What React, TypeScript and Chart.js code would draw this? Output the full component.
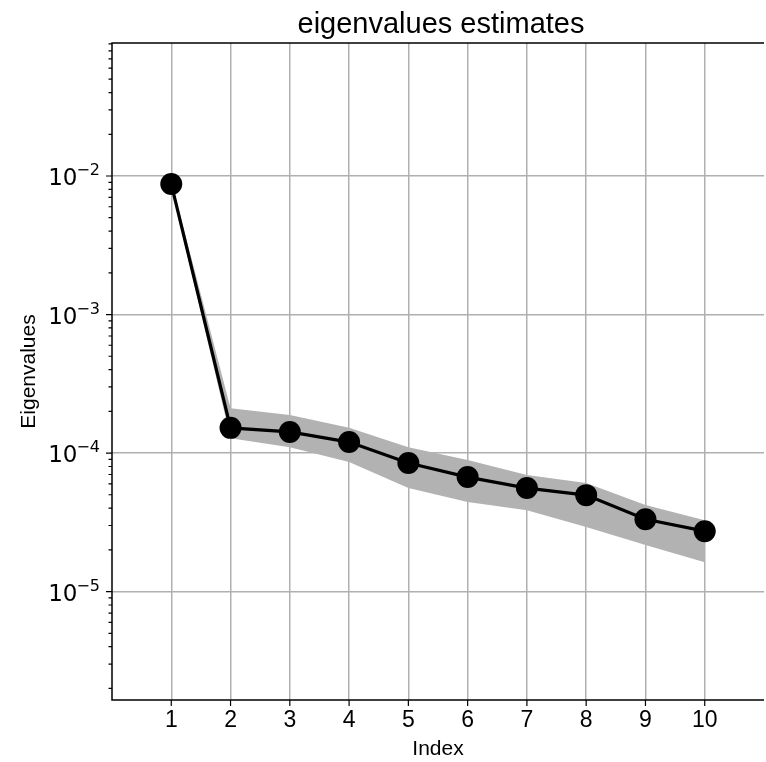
import React, { useEffect, useRef } from "react";
import { Chart, registerables } from "chart.js";

Chart.register(...registerables);

// ---- data ----
const indices = [1, 2, 3, 4, 5, 6, 7, 8, 9, 10];
const eigenvalues = [8.75e-3, 1.52e-4, 1.42e-4, 1.2e-4, 8.47e-5, 6.71e-5, 5.59e-5, 4.97e-5, 3.33e-5, 2.73e-5];
const upperBound = [9.2e-3, 2.11e-4, 1.88e-4, 1.52e-4, 1.1e-4, 8.9e-5, 6.93e-5, 6.07e-5, 4.21e-5, 3.28e-5];
const lowerBound = [8.3e-3, 1.28e-4, 1.1e-4, 8.61e-5, 5.59e-5, 4.43e-5, 3.87e-5, 2.92e-5, 2.17e-5, 1.63e-5];
const xTickValues = [1, 2, 3, 4, 5, 6, 7, 8, 9, 10];
const yMajorExponents = [-6, -5, -4, -3, -2, -1];
const yMinorMultipliers = [2, 3, 4, 5, 6, 7, 8, 9];
const yLabelExponents = [-5, -4, -3, -2];
const X_MIN = 0;
const X_MAX = 11;
const Y_MIN = 1.65e-6;
const Y_MAX = 0.0912;
const TITLE = "eigenvalues estimates";
const X_LABEL = "Index";
const Y_LABEL = "Eigenvalues";

const SANS = "'Liberation Sans', Arial, sans-serif";
const MATH = "'DejaVu Sans', sans-serif";

const decorations = {
  id: "decorations",
  afterDraw(chart: any) {
    const { ctx, chartArea: a, scales } = chart;
    const xs = scales.x;
    const ys = scales.y;
    ctx.save();
    ctx.strokeStyle = "#000";
    ctx.lineWidth = 1.2;
    ctx.beginPath();
    ys.ticks.forEach((t: any) => {
      const py = ys.getPixelForValue(t.value);
      if (py < a.top - 0.5 || py > a.bottom + 0.5) return;
      const len = t.major ? 6 : 3.5;
      ctx.moveTo(a.left - len, py);
      ctx.lineTo(a.left, py);
    });
    xs.ticks.forEach((t: any) => {
      const px = xs.getPixelForValue(t.value);
      ctx.moveTo(px, a.bottom);
      ctx.lineTo(px, a.bottom + 6);
    });
    ctx.stroke();

    // spines
    ctx.lineWidth = 1.5;
    ctx.beginPath();
    ctx.moveTo(a.right, a.top);
    ctx.lineTo(a.left, a.top);
    ctx.lineTo(a.left, a.bottom);
    ctx.lineTo(a.right, a.bottom);
    ctx.stroke();

    // y tick labels (10^n)
    ctx.fillStyle = "#000";
    ctx.textBaseline = "alphabetic";
    ctx.textAlign = "right";
    yLabelExponents.forEach((e) => {
      const py = ys.getPixelForValue(Math.pow(10, e));
      const right = a.left - 12;
      const sup = "\u2212" + Math.abs(e);
      ctx.font = `16px ${MATH}`;
      const w2 = ctx.measureText(sup).width;
      ctx.fillText(sup, right, py - 1);
      ctx.font = `23px ${MATH}`;
      ctx.fillText("10", right - w2 + 1, py + 9);
    });

    // title
    ctx.font = `29px ${SANS}`;
    ctx.textAlign = "center";
    ctx.fillText(TITLE, (a.left + a.right) / 2 + 3, 33);
    ctx.restore();
  },
};

export default function App() {
  const canvasRef = useRef<HTMLCanvasElement | null>(null);

  useEffect(() => {
    const canvas = canvasRef.current;
    if (!canvas) return;

    const yTicks: { value: number; major: boolean }[] = [];
    yMajorExponents.forEach((e) => {
      const base = Math.pow(10, e);
      yTicks.push({ value: base, major: true });
      yMinorMultipliers.forEach((m) => yTicks.push({ value: m * base, major: false }));
    });
    const yTicksInRange = yTicks.filter((t) => t.value >= Y_MIN && t.value <= Y_MAX);

    const chart = new Chart(canvas, {
      type: "line",
      data: {
        datasets: [
          {
            label: "upper",
            data: indices.map((x, i) => ({ x, y: upperBound[i] })),
            borderWidth: 0,
            borderColor: "rgba(0,0,0,0)",
            pointRadius: 0,
            fill: "+1",
            backgroundColor: "#b2b2b2",
            order: 3,
          },
          {
            label: "lower",
            data: indices.map((x, i) => ({ x, y: lowerBound[i] })),
            borderWidth: 0,
            borderColor: "rgba(0,0,0,0)",
            pointRadius: 0,
            fill: false,
            order: 2,
          },
          {
            label: "eigenvalues",
            data: indices.map((x, i) => ({ x, y: eigenvalues[i] })),
            borderColor: "#000",
            borderWidth: 3.2,
            pointRadius: 11,
            pointBackgroundColor: "#000",
            pointBorderWidth: 0,
            fill: false,
            order: 1,
          },
        ],
      },
      options: {
        animation: false,
        responsive: false,
        devicePixelRatio: 1,
        layout: { padding: { top: 43, right: 0, bottom: 0, left: 0 } },
        plugins: {
          legend: { display: false },
          title: { display: false },
          tooltip: { enabled: false },
        },
        scales: {
          x: {
            type: "linear",
            min: X_MIN,
            max: X_MAX,
            position: "bottom",
            afterBuildTicks: (s: any) => {
              s.ticks = xTickValues.map((v) => ({ value: v }));
            },
            afterFit: (s: any) => {
              s.height = 62;
            },
            grid: { color: "#b0b0b0", lineWidth: 1.5, drawTicks: false },
            border: { display: false },
            ticks: {
              autoSkip: false,
              maxRotation: 0,
              color: "#000",
              padding: 7,
              font: { family: SANS, size: 23 },
              callback: (v: any) => String(v),
            },
            title: {
              display: true,
              text: X_LABEL,
              color: "#000",
              font: { family: SANS, size: 21 },
              padding: { top: 0, bottom: 0 },
            },
          },
          y: {
            type: "logarithmic",
            min: Y_MIN,
            max: Y_MAX,
            bounds: "data",
            position: "left",
            afterBuildTicks: (s: any) => {
              s.ticks = yTicksInRange.map((t) => ({ value: t.value, major: t.major }));
            },
            afterFit: (s: any) => {
              s.width = 112;
            },
            grid: {
              color: (c: any) => (c.tick && c.tick.major ? "#b0b0b0" : "rgba(0,0,0,0)"),
              lineWidth: 1.5,
              drawTicks: false,
            },
            border: { display: false },
            ticks: { display: false, autoSkip: false },
            title: {
              display: true,
              text: Y_LABEL,
              color: "#000",
              font: { family: SANS, size: 21 },
              padding: { top: 17, bottom: 0 },
            },
          },
        },
      },
      plugins: [decorations],
    } as any);

    return () => chart.destroy();
  }, []);

  return (
    <div
      style={{
        position: "absolute",
        left: 0,
        top: 0,
        width: 766,
        height: 762,
        overflow: "hidden",
        background: "#fff",
      }}
    >
      <canvas ref={canvasRef} width={775} height={762} style={{ display: "block" }} />
    </div>
  );
}
